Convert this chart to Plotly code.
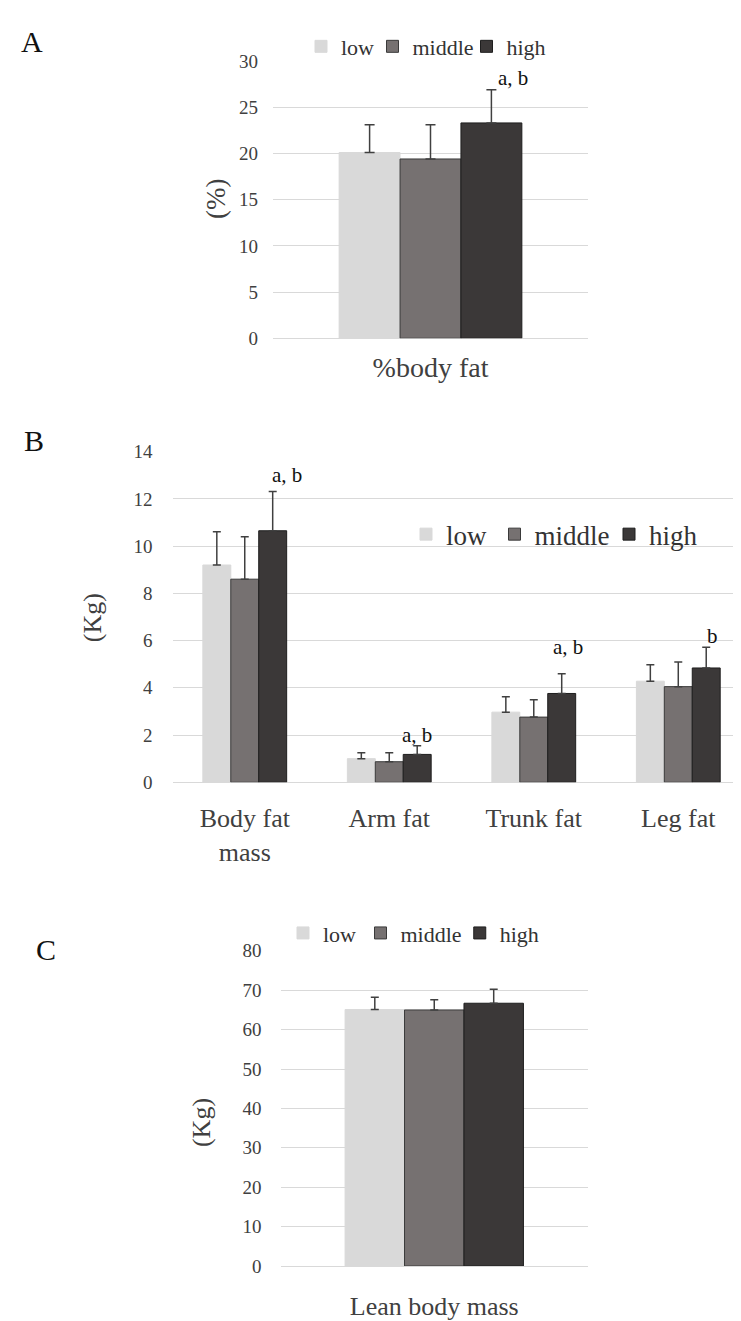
import plotly.graph_objects as go

# page is drawn with an 8px body margin, so the figure is sized/offset to fit the 741x1321 window
PAGE_W, PAGE_H, OFF = 741, 1321, 8
W, H = PAGE_W - OFF, PAGE_H - OFF

groups = ["low", "middle", "high"]
colors = ["#D9D9D9", "#767171", "#3B3838"]
outline = ["#D9D9D9", "#3a3a3a", "#1e1e1e"]

# Panel A: %body fat
cat_a = ["%body fat"]
a_low, a_mid, a_high = [20.1], [19.4], [23.3]
a_err_low, a_err_mid, a_err_high = [3.0], [3.7], [3.6]
a_sig_text = ["a, b"]
a_sig_x = [0.263]
a_sig_y = [28.15]

# Panel B: fat mass by region
cat_b = ["Body fat<br>mass", "Arm fat", "Trunk fat", "Leg fat"]
b_low = [9.2, 1.0, 2.97, 4.28]
b_mid = [8.6, 0.87, 2.76, 4.05]
b_high = [10.65, 1.18, 3.76, 4.84]
b_err_low = [1.41, 0.25, 0.65, 0.70]
b_err_mid = [1.80, 0.38, 0.73, 1.04]
b_err_high = [1.66, 0.37, 0.84, 0.88]
b_sig_text = ["a, b", "a, b", "a, b", "b"]
b_sig_x = [0.292, 1.192, 2.237, 3.24]
b_sig_y = [13.03, 1.99, 5.74, 6.2]

# Panel C: lean body mass
cat_c = ["Lean body mass"]
c_low, c_mid, c_high = [65.1], [65.0], [66.7]
c_err_low, c_err_mid, c_err_high = [3.1], [2.6], [3.55]

FONT = "Liberation Serif"
TXT = "#404040"


def px_x(p):
    return (p - OFF) / W


def px_y(p):
    return 1 - (p - OFF) / H


fig = go.Figure()

# per-panel: axes, legend item positions (page px), legend font size
panels = [
    ("x", "y", cat_a, [a_low, a_mid, a_high], [a_err_low, a_err_mid, a_err_high], 5,
     [301, 372.5, 466.5], 37, 22),
    ("x2", "y2", cat_b, [b_low, b_mid, b_high], [b_err_low, b_err_mid, b_err_high], 4,
     [406, 494.5, 609], 533, 27),
    ("x3", "y3", cat_c, [c_low, c_mid, c_high], [c_err_low, c_err_mid, c_err_high], 4,
     [283, 360.5, 459.75], 938, 22),
]

legend_layouts = {}
k = 0
for xa, ya, cats, vals, errs, capw, lgx, lgy, lgsize in panels:
    for g, col, oc, v, e, lx in zip(groups, colors, outline, vals, errs, lgx):
        k += 1
        lname = "legend" if k == 1 else f"legend{k}"
        fig.add_trace(go.Bar(
            x=cats, y=v, name=g, xaxis=xa, yaxis=ya, legend=lname,
            marker=dict(color=col, line=dict(color=oc, width=1)),
            error_y=dict(type="data", array=e, arrayminus=[0] * len(e), symmetric=False,
                         color="#404040", thickness=1.5, width=capw),
        ))
        legend_layouts[lname] = dict(
            orientation="h", x=px_x(lx), y=px_y(lgy), xanchor="left", yanchor="middle",
            font=dict(family=FONT, size=lgsize, color="#333333"),
            bgcolor="rgba(0,0,0,0)", borderwidth=0)

yaxis_common = dict(showgrid=True, gridcolor="#D9D9D9", gridwidth=1, zeroline=True,
                    zerolinecolor="#D9D9D9", zerolinewidth=1, showline=False, ticks="",
                    tickfont=dict(family=FONT, size=19, color=TXT))
xaxis_common = dict(showgrid=False, zeroline=False, showline=False, ticks="", type="category")

fig.update_layout(
    width=W, height=H, margin=dict(l=0, r=0, t=0, b=0),
    paper_bgcolor="white", plot_bgcolor="white",
    barmode="group", bargap=0.42, bargroupgap=0,
    font=dict(family=FONT, color=TXT),
    xaxis=dict(domain=[px_x(273), px_x(588)], anchor="y", range=[-0.5, 0.5],
               tickfont=dict(family=FONT, size=28, color=TXT), ticklabelstandoff=10, **xaxis_common),
    yaxis=dict(domain=[px_y(333.5), px_y(51.7)], anchor="x", range=[0, 30], dtick=5,
               ticklabelstandoff=14, **yaxis_common),
    xaxis2=dict(domain=[px_x(172.5), 1.0], anchor="y2", range=[-0.5, 3.434],
                tickfont=dict(family=FONT, size=26, color=TXT), ticklabelstandoff=18, **xaxis_common),
    yaxis2=dict(domain=[px_y(784.7), px_y(448.7)], anchor="x2", range=[0, 14], dtick=2,
                ticklabelstandoff=19, **yaxis_common),
    xaxis3=dict(domain=[px_x(280.5), px_x(588)], anchor="y3", range=[-0.5, 0.5],
                tickfont=dict(family=FONT, size=26, color=TXT), ticklabelstandoff=22, **xaxis_common),
    yaxis3=dict(domain=[px_y(1276.3), px_y(956)], anchor="x3", range=[0, 80], dtick=10,
                ticklabelstandoff=18, **yaxis_common),
    showlegend=True,
    **legend_layouts,
)

annotations = []
for t, xv, yv in zip(a_sig_text, a_sig_x, a_sig_y):
    annotations.append(dict(text=t, x=xv, y=yv, xref="x", yref="y", showarrow=False,
                            xanchor="center", yanchor="middle",
                            font=dict(family=FONT, size=21, color="#111111")))
for t, xv, yv in zip(b_sig_text, b_sig_x, b_sig_y):
    annotations.append(dict(text=t, x=xv, y=yv, xref="x2", yref="y2", showarrow=False,
                            xanchor="center", yanchor="middle",
                            font=dict(family=FONT, size=21, color="#111111")))

# axis titles
annotations += [
    dict(text="(%)", x=px_x(216), y=px_y(192), xref="paper", yref="paper", textangle=-90,
         xanchor="center", yanchor="middle",
         showarrow=False, font=dict(family=FONT, size=27, color=TXT)),
    dict(text="(Kg)", x=px_x(92), y=px_y(618), xref="paper", yref="paper", textangle=-90,
         xanchor="center", yanchor="middle",
         showarrow=False, font=dict(family=FONT, size=26, color=TXT)),
    dict(text="(Kg)", x=px_x(201), y=px_y(1131), xref="paper", yref="paper", textangle=-90,
         xanchor="center", yanchor="middle",
         showarrow=False, font=dict(family=FONT, size=26, color=TXT)),
]
# panel letters
for letter, lx, ly in [("A", 32, 32), ("B", 34, 437), ("C", 46, 955)]:
    annotations.append(dict(text=letter, x=px_x(lx), y=px_y(ly), xref="paper", yref="paper",
                            xanchor="center", yanchor="middle",
                            showarrow=False, font=dict(family=FONT, size=30, color="#111111")))

fig.update_layout(annotations=annotations)

fig.write_html("out.html")
